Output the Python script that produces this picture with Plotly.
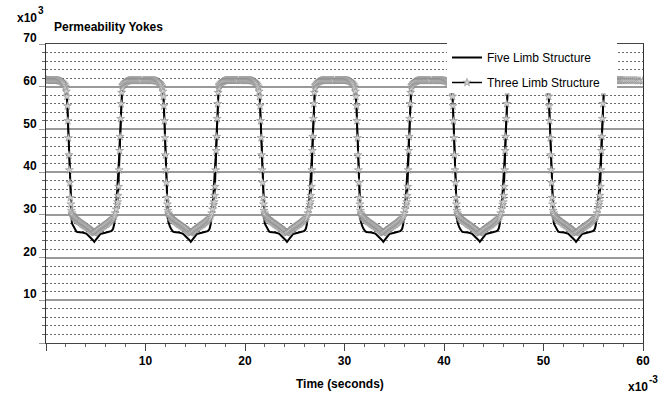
import plotly.graph_objects as go

# ---- data (time in ms, i.e. x10^-3 s; permeability in x10^3) ----
dip_centers = [4.85, 14.55, 24.22, 33.9, 43.6, 53.27]

cycle_offsets = [
    -4.8, -4.7, -4.6, -4.5, -4.4, -4.3, -4.2, -4.1, -4.0, -3.9,
    -3.8, -3.7, -3.6, -3.5, -3.4, -3.3, -3.2, -3.1, -3.0, -2.9,
    -2.85, -2.8, -2.75, -2.7, -2.65, -2.6, -2.55, -2.5, -2.45, -2.4,
    -2.35, -2.3, -2.25, -2.2, -2.1, -2.0, -1.9, -1.8, -1.7, -1.6,
    -1.5, -1.4, -1.3, -1.2, -1.1, -1.0, -0.9, -0.8, -0.7, -0.6,
    -0.5, -0.4, -0.3, -0.2, -0.1, 0.0, 0.1, 0.2, 0.3, 0.4,
    0.5, 0.6, 0.7, 0.8, 0.9, 1.0, 1.1, 1.2, 1.3, 1.4,
    1.5, 1.6, 1.7, 1.8, 1.9, 2.0, 2.1, 2.2, 2.3, 2.35,
    2.4, 2.45, 2.5, 2.55, 2.6, 2.65, 2.7, 2.75, 2.8, 2.85,
    2.9, 3.0, 3.1, 3.2, 3.3, 3.4, 3.5, 3.6, 3.7, 3.8,
    3.9, 4.0, 4.1, 4.2, 4.3, 4.4, 4.5, 4.6, 4.7]

three_limb_cycle = [
    61.5, 61.5, 61.5, 61.5, 61.5, 61.5, 61.5, 61.5, 61.5, 61.5,
    61.5, 61.5, 61.4, 61.4, 61.3, 61.2, 61.0, 60.8, 60.5, 60.1,
    59.6, 58.9, 57.7, 55.5, 52.0, 48.0, 44.0, 40.5, 37.5, 34.0,
    32.5, 31.0, 30.4, 30.0, 29.5, 29.3, 29.1, 28.9, 28.7, 28.5,
    28.4, 28.2, 28.0, 27.8, 27.7, 27.5, 27.4, 27.2, 27.0, 26.9,
    26.7, 26.5, 26.3, 26.1, 25.9, 25.8, 25.9, 26.1, 26.3, 26.5,
    26.7, 26.9, 27.0, 27.2, 27.4, 27.5, 27.7, 27.8, 28.0, 28.2,
    28.4, 28.6, 28.8, 29.0, 29.2, 29.7, 30.4, 31.3, 32.4, 33.0,
    34.5, 36.6, 40.5, 45.0, 48.3, 52.5, 56.0, 58.6, 59.6, 60.2,
    60.5, 60.8, 61.0, 61.2, 61.3, 61.4, 61.5, 61.5, 61.5, 61.5,
    61.5, 61.5, 61.5, 61.5, 61.5, 61.5, 61.5, 61.5, 61.5]

five_limb_cycle = [
    61.5, 61.5, 61.5, 61.5, 61.5, 61.5, 61.5, 61.5, 61.5, 61.5,
    61.5, 61.5, 61.4, 61.4, 61.3, 61.2, 61.0, 60.8, 60.5, 60.1,
    59.6, 58.9, 57.7, 55.5, 52.0, 48.0, 44.0, 40.5, 37.5, 33.5,
    30.5, 29.0, 28.3, 27.8, 27.3, 26.8, 26.4, 26.1, 26.0, 26.0,
    26.0, 25.95, 25.9, 25.85, 25.8, 25.75, 25.7, 25.6, 25.4, 25.2,
    25.0, 24.8, 24.5, 24.3, 24.0, 23.7, 24.0, 24.3, 24.6, 25.0,
    25.3, 25.5, 25.6, 25.7, 25.7, 25.75, 25.8, 25.85, 25.9, 25.95,
    26.0, 26.1, 26.2, 26.4, 26.8, 27.8, 29.8, 32.5, 35.5, 37.0,
    39.0, 41.0, 43.5, 46.5, 49.5, 53.0, 56.0, 58.5, 59.5, 60.2,
    60.5, 60.8, 61.0, 61.2, 61.3, 61.4, 61.5, 61.5, 61.5, 61.5,
    61.5, 61.5, 61.5, 61.5, 61.5, 61.5, 61.5, 61.5, 61.5]

lead_time = [0.0]
lead_three = [61.7]
lead_five = [61.7]
tail_time = [58.1, 58.3, 58.5, 58.7, 58.9, 59.1, 59.3, 59.5, 59.7, 60.0]
tail_three = [61.5, 61.5, 61.5, 61.5, 61.5, 61.5, 61.5, 61.4, 61.4, 61.4]
tail_five = [61.5, 61.5, 61.5, 61.5, 61.5, 61.5, 61.5, 61.4, 61.4, 61.4]

x_ticks = [0, 10, 20, 30, 40, 50, 60]
x_tick_text = ["", "10", "20", "30", "40", "50", "60"]
y_ticks = [0, 10, 20, 30, 40, 50, 60, 70]
y_tick_text = ["", "10", "20", "30", "40", "50", "60", "70"]

# ---- assemble series from the per-cycle readings ----
t = list(lead_time)
three = list(lead_three)
five = list(lead_five)
for c in dip_centers:
    t += [c + o for o in cycle_offsets]
    three += three_limb_cycle
    five += five_limb_cycle
t += tail_time
three += tail_three
five += tail_five

W, H = 670, 395
ML, MR, MT, MB = 46, 27, 44, 52
PW, PH = W - ML - MR, H - MT - MB


def px(xp):
    return (xp - ML) / PW


def py(yp):
    return (H - MB - yp) / PH


FONT = "Liberation Sans, Arial, sans-serif"

fig = go.Figure()
fig.add_trace(go.Scatter(
    x=t, y=five, mode="lines", name="Five Limb Structure",
    line=dict(color="black", width=2), legendgroup="a"))
fig.add_trace(go.Scatter(
    x=t, y=three, mode="lines+markers", name="Three Limb Structure",
    line=dict(color="black", width=1.5), legendgroup="b",
    marker=dict(symbol="star", size=6, color="#d0d0d0",
                line=dict(color="#8a8a8a", width=0.6))))

# white box behind legend
fig.add_shape(type="rect", xref="paper", yref="paper",
              x0=px(447), x1=px(617), y0=py(93), y1=py(43),
              fillcolor="white", line=dict(width=0), layer="above")

fig.update_layout(
    width=W, height=H,
    margin=dict(l=ML, r=MR, t=MT, b=MB),
    paper_bgcolor="white", plot_bgcolor="white",
    font=dict(family=FONT, size=12, color="black"),
    showlegend=True,
    legend=dict(x=px(447), y=py(43), xanchor="left", yanchor="top",
                bgcolor="rgba(0,0,0,0)", borderwidth=0,
                tracegroupgap=6, font=dict(size=12, family=FONT)),
    xaxis=dict(range=[0, 60], tickvals=x_ticks, ticktext=x_tick_text,
               showgrid=False, zeroline=False, ticks="outside", ticklen=7,
               tickcolor="#444", showline=True, linecolor="#444", linewidth=1,
               mirror=True,
               tickfont=dict(family=FONT, size=12, color="black", weight="bold"),
               minor=dict(dtick=2, ticks="outside", ticklen=3, tickcolor="#666",
                          showgrid=False)),
    yaxis=dict(range=[0, 70], tickvals=y_ticks, ticktext=y_tick_text,
               showgrid=True, gridcolor="#9a9a9a", gridwidth=1.5,
               zeroline=False, ticks="outside", ticklen=6, tickcolor="#9a9a9a",
               showline=True, linecolor="#333", linewidth=1, mirror=True,
               ticklabelshift=-6,
               tickfont=dict(family=FONT, size=12, color="black", weight="bold"),
               minor=dict(dtick=2, ticks="outside", ticklen=3, tickcolor="#666",
                          showgrid=True, gridcolor="#6a6a6a", griddash="2px,2px",
                          gridwidth=1)),
    annotations=[
        dict(text="<b>x10</b>", x=px(15), y=py(18), xref="paper", yref="paper",
             xanchor="left", yanchor="middle", showarrow=False,
             font=dict(family=FONT, size=12)),
        dict(text="<b>3</b>", x=px(36), y=py(10), xref="paper", yref="paper",
             xanchor="left", yanchor="middle", showarrow=False,
             font=dict(family=FONT, size=10)),
        dict(text="<b>Permeability Yokes</b>", x=px(52), y=py(27), xref="paper", yref="paper",
             xanchor="left", yanchor="middle", showarrow=False,
             font=dict(family=FONT, size=12)),
        dict(text="<b>Time (seconds)</b>", x=px(340), y=py(384), xref="paper", yref="paper",
             xanchor="center", yanchor="middle", showarrow=False,
             font=dict(family=FONT, size=12)),
        dict(text="<b>x10</b>", x=px(626), y=py(387), xref="paper", yref="paper",
             xanchor="left", yanchor="middle", showarrow=False,
             font=dict(family=FONT, size=12)),
        dict(text="<b>-3</b>", x=px(647), y=py(379), xref="paper", yref="paper",
             xanchor="left", yanchor="middle", showarrow=False,
             font=dict(family=FONT, size=10)),
    ],
)

fig.write_html("out.html")
